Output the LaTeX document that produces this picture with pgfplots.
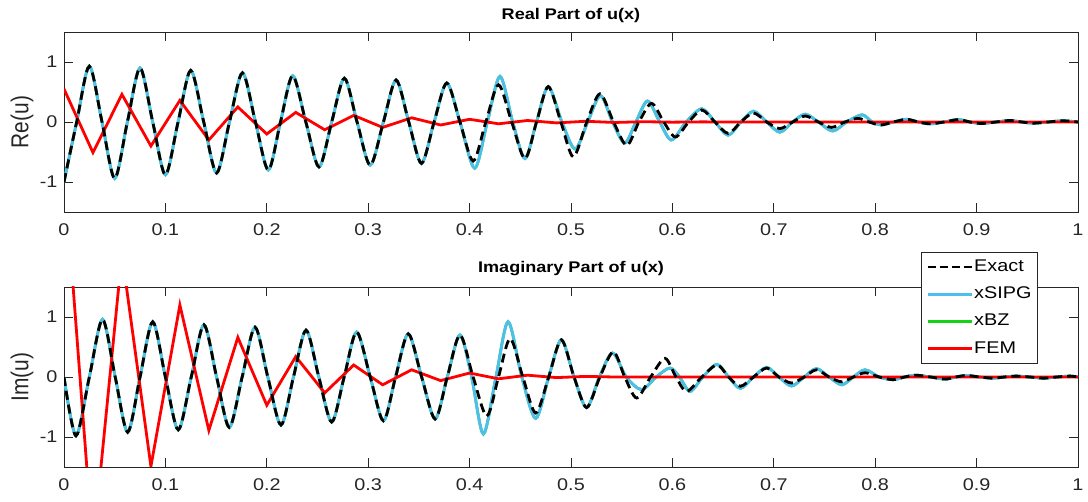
\documentclass[border=0pt]{standalone}
\usepackage{graphicx}
\usepackage{fontspec}
\setmainfont{Liberation Sans}[FakeStretch=1.17]
\newfontfamily\plainfont{Liberation Sans}
\usepackage{pgfplots}
\pgfplotsset{compat=1.18}
\usepackage{pgfplotstable}

\definecolor{axgray}{RGB}{38,38,38}
\definecolor{sipg}{RGB}{77,190,238}
\definecolor{bzgreen}{RGB}{20,210,20}
\definecolor{femred}{RGB}{255,0,0}

\pgfplotstableread{
x y
0 -1.0
0.0125 0
0.025 0.93
0.0375 0
0.050 -0.94
0.0625 0
0.075 0.90
0.0875 0
0.100 -0.88
0.1125 0
0.125 0.86
0.1378 0
0.1505 -0.85
0.1632 0
0.176 0.82
0.1888 0
0.2015 -0.80
0.2135 0
0.2255 0.77
0.2385 0
0.2515 -0.75
0.264 0
0.2765 0.73
0.289 0
0.302 -0.72
0.315 0
0.3275 0.70
0.340 0
0.3525 -0.69
0.365 0
0.3775 0.65
0.3905 0
0.4035 -0.65
0.416 0
0.4285 0.62
0.4415 0
0.4546 -0.61
0.466 0
0.4776 0.59
0.490 0
0.5023 -0.58
0.5155 0
0.5286 0.47
0.542 0
0.555 -0.39
0.567 0
0.5795 0.31
0.5915 0
0.603 -0.25
0.616 0
0.629 0.20
0.642 0
0.655 -0.19
0.6675 0
0.680 0.15
0.693 0
0.706 -0.11
0.7185 0
0.731 0.10
0.744 0
0.757 -0.09
0.770 0
0.783 0.06
0.794 0
0.805 -0.05
0.818 0
0.831 0.045
0.8425 0
0.854 -0.03
0.868 0
0.882 0.04
0.8935 0
0.905 -0.025
0.919 0
0.933 0.025
0.9445 0
0.956 -0.02
0.9705 0
0.985 0.02
1.0 0.0
}\exactre

\pgfplotstableread{
x y
0 -1.0
0.0125 0
0.025 0.93
0.0375 0
0.050 -0.94
0.0625 0
0.075 0.90
0.0875 0
0.100 -0.88
0.1125 0
0.125 0.86
0.1378 0
0.1505 -0.85
0.1632 0
0.176 0.82
0.1888 0
0.2015 -0.80
0.2135 0
0.2255 0.77
0.2385 0
0.2515 -0.75
0.264 0
0.2765 0.73
0.289 0
0.302 -0.72
0.315 0
0.3275 0.70
0.340 0
0.3525 -0.69
0.365 0
0.3775 0.65
0.3905 0
0.405 -0.77
0.4175 0
0.430 0.76
0.4425 0
0.4546 -0.61
0.466 0
0.4776 0.59
0.491 0
0.504 -0.45
0.5165 0
0.529 0.44
0.541 0
0.553 -0.35
0.564 0
0.5755 0.35
0.5875 0
0.599 -0.30
0.6135 0
0.629 0.22
0.642 0
0.655 -0.22
0.6675 0
0.680 0.18
0.693 0
0.706 -0.17
0.7185 0
0.731 0.13
0.744 0
0.758 -0.15
0.772 0
0.787 0.12
0.797 0
0.806 -0.05
0.818 0
0.831 0.045
0.8425 0
0.854 -0.03
0.868 0
0.882 0.04
0.8935 0
0.905 -0.025
0.919 0
0.933 0.025
0.9445 0
0.956 -0.02
0.9705 0
0.985 0.02
1.0 0.0
}\sipgre

\pgfplotstableread{
x y
0 0.55
0.028571 -0.51
0.057143 0.46
0.085714 -0.40
0.114286 0.36
0.142857 -0.30
0.171429 0.25
0.2 -0.20
0.228571 0.16
0.257143 -0.13
0.285714 0.11
0.314286 -0.09
0.342857 0.07
0.371429 -0.05
0.4 0.045
0.428571 -0.03
0.457143 0.025
0.485714 -0.015
0.514286 0.012
0.542857 -0.008
0.571429 0.005
0.6 -0.003
0.628571 0.002
0.657143 0
1.0 0
}\femre

\pgfplotstableread{
x y
0 0
0.0118 -0.98
0.025 0
0.038 0.96
0.0505 0
0.0628 -0.92
0.075 0
0.0875 0.92
0.100 0
0.1127 -0.88
0.1255 0
0.138 0.87
0.1505 0
0.163 -0.84
0.1757 0
0.1884 0.83
0.201 0
0.214 -0.80
0.2263 0
0.2387 0.78
0.2513 0
0.264 -0.75
0.2763 0
0.2886 0.75
0.302 0
0.315 -0.73
0.327 0
0.3395 0.72
0.3527 0
0.366 -0.70
0.378 0
0.3905 0.70
0.4035 0
0.417 -0.65
0.4285 0
0.440 0.64
0.4525 0
0.4652 -0.60
0.478 0
0.4905 0.62
0.503 0
0.5154 -0.51
0.5285 0
0.5418 0.42
0.553 0
0.5648 -0.35
0.5785 0
0.5927 0.31
0.6035 0
0.614 -0.24
0.629 0
0.644 0.20
0.6555 0
0.667 -0.155
0.680 0
0.693 0.15
0.705 0
0.7175 -0.10
0.730 0
0.742 0.12
0.7545 0
0.767 -0.08
0.7785 0
0.790 0.07
0.804 0
0.8176 -0.045
0.829 0
0.840 0.03
0.8545 0
0.869 -0.035
0.8795 0
0.890 0.025
0.903 0
0.916 -0.02
0.9275 0
0.939 0.015
0.9525 0
0.966 -0.02
0.979 0
0.992 0.015
1.0 0
}\exactim

\pgfplotstableread{
x y
0 0
0.0118 -0.98
0.025 0
0.038 0.96
0.0505 0
0.0628 -0.92
0.075 0
0.0875 0.92
0.100 0
0.1127 -0.88
0.1255 0
0.138 0.87
0.1505 0
0.163 -0.84
0.1757 0
0.1884 0.83
0.201 0
0.214 -0.80
0.2263 0
0.2387 0.78
0.2513 0
0.264 -0.75
0.2763 0
0.2886 0.75
0.302 0
0.315 -0.73
0.327 0
0.3395 0.72
0.3527 0
0.366 -0.70
0.378 0
0.3905 0.70
0.402 0
0.4136 -0.95
0.426 0
0.438 0.92
0.4515 0
0.4652 -0.69
0.478 0
0.4905 0.62
0.503 0
0.5154 -0.51
0.528 0
0.541 0.40
0.5545 0
0.5695 -0.21
0.584 0
0.5976 0.15
0.607 0
0.6174 -0.24
0.630 0
0.644 0.21
0.6555 0
0.667 -0.19
0.680 0
0.693 0.16
0.705 0
0.7175 -0.15
0.730 0
0.742 0.14
0.7545 0
0.767 -0.13
0.7785 0
0.790 0.12
0.804 0
0.8176 -0.045
0.829 0
0.840 0.03
0.8545 0
0.869 -0.035
0.8795 0
0.890 0.025
0.903 0
0.916 -0.02
0.9275 0
0.939 0.015
0.9525 0
0.966 -0.02
0.979 0
0.992 0.015
1.0 0
}\sipgim

\pgfplotstableread{
x y
0 3.5
0.028571 -2.85
0.057143 2.05
0.085714 -1.49
0.114286 1.20
0.142857 -0.89
0.171429 0.66
0.2 -0.47
0.228571 0.34
0.257143 -0.265
0.285714 0.20
0.314286 -0.13
0.342857 0.12
0.371429 -0.06
0.4 0.066
0.428571 -0.03
0.457143 0.03
0.485714 -0.01
0.514286 0.01
0.542857 0
1.0 0
}\femim

\pgfplotsset{
  mystyle/.style={
    scale only axis, width=1014bp, height=180bp,
    xmin=0, xmax=1, ymin=-1.5, ymax=1.5,
    xtick={0,0.1,0.2,0.3,0.4,0.5,0.6,0.7,0.8,0.9,1},
    xticklabels={0,0.1,0.2,0.3,0.4,0.5,0.6,0.7,0.8,0.9,1},
    ytick={-1,0,1}, yticklabels={-1,0,1},
    tick align=inside, major tick length=9bp,
    axis line style={axgray, line width=0.8bp},
    every tick/.style={axgray, line width=0.8bp},
    ticklabel style={font=\fontsize{17}{20}\selectfont, text=axgray},
    xticklabel style={yshift=-8bp},
    yticklabel style={xshift=-3bp},
    title style={font=\fontsize{15.5}{18}\selectfont\bfseries, text=black,
      at={(axis description cs:0.5,1)}, anchor=base},
    ylabel style={at={(axis description cs:-0.0414,0.5)}, anchor=center, text=axgray},
    clip=true,
  },
  exactst/.style={black, line width=2.8bp, dash pattern=on 9bp off 5bp},
  exactleg/.style={black, line width=2.8bp, dash pattern=on 8bp off 4bp},
  sipgst/.style={sipg, line width=2.8bp},
  bzst/.style={bzgreen, line width=2.8bp},
  femst/.style={femred, line width=2.8bp},
}

\begin{document}
\begin{tikzpicture}
\useasboundingbox (0,0) rectangle (1088bp,502bp);

\begin{axis}[mystyle, at={(64bp,290bp)}, anchor=south west,
  title={Real Part of u(x)}, title style={yshift=7bp},
  ylabel={\scalebox{1}[1.17]{\plainfont\fontsize{21}{24}\selectfont Re(u)}}]
\addplot[bzst, smooth] table {\sipgre};
\addplot[sipgst, smooth] table {\sipgre};
\addplot[femst] table {\femre};
\addplot[exactst, smooth] table {\exactre};
\end{axis}

\begin{axis}[mystyle, at={(64bp,35bp)}, anchor=south west,
  title={Imaginary Part of u(x)}, title style={yshift=9bp},
  ylabel={\scalebox{1}[1.17]{\plainfont\fontsize{21}{24}\selectfont Im(u)}},
  legend image code/.code={\draw[#1] (0bp,0bp) -- (44bp,0bp);},
  legend cell align=left,
  legend style={at={(0.8452,1.1944)}, anchor=north west,
    draw=axgray, line width=0.8bp, fill=white, inner sep=5bp,
    font=\fontsize{17}{20}\selectfont, text=black,
    nodes={inner sep=1bp, text height=13bp, text depth=4bp},
    row sep=8.2bp}]
\addlegendimage{exactleg}
\addlegendentry{Exact}
\addlegendimage{sipgst}
\addlegendentry{xSIPG}
\addlegendimage{bzst}
\addlegendentry{xBZ}
\addlegendimage{femst}
\addlegendentry{FEM}
\addplot[bzst, smooth, forget plot] table {\sipgim};
\addplot[sipgst, smooth, forget plot] table {\sipgim};
\addplot[femst, forget plot] table {\femim};
\addplot[exactst, smooth, forget plot] table {\exactim};
\end{axis}
\end{tikzpicture}
\end{document}
